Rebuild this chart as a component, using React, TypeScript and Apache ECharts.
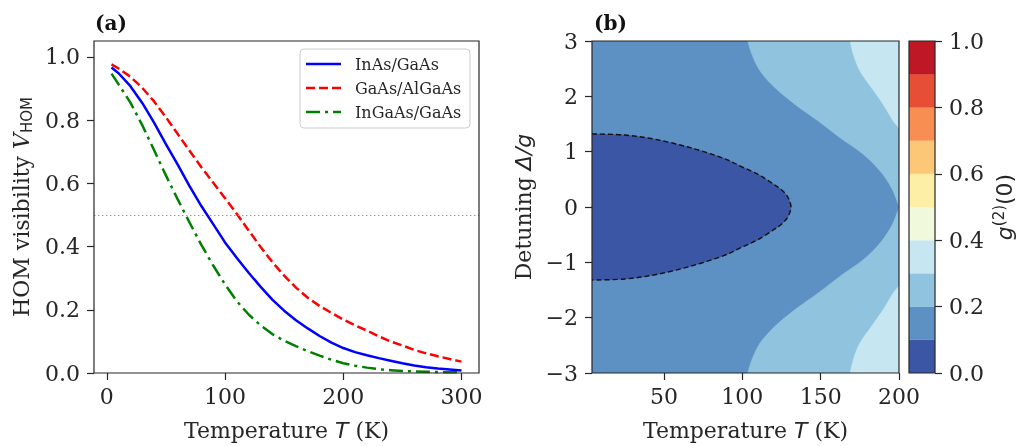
import { useEffect, useRef } from 'react';
import * as echarts from 'echarts';

const SERIF = 'DejaVu Serif';
const SANS = 'DejaVu Sans';
const INK = '#262626';

// ---- Panel (a): HOM visibility vs temperature ----
const temperatures = [4, 10, 20, 30, 40, 50, 60, 70, 80, 90, 100, 110, 120, 130, 140, 150, 160, 170, 180, 190, 200, 210, 220, 230, 240, 250, 260, 270, 280, 290, 300];
const inasGaas = [0.966, 0.948, 0.907, 0.854, 0.792, 0.724, 0.659, 0.591, 0.528, 0.471, 0.413, 0.364, 0.317, 0.273, 0.232, 0.197, 0.167, 0.141, 0.117, 0.096, 0.079, 0.066, 0.056, 0.047, 0.039, 0.031, 0.024, 0.018, 0.014, 0.011, 0.008];
const gaasAlgaas = [0.976, 0.963, 0.937, 0.902, 0.859, 0.809, 0.756, 0.703, 0.651, 0.602, 0.553, 0.503, 0.451, 0.399, 0.351, 0.308, 0.270, 0.238, 0.212, 0.190, 0.169, 0.151, 0.134, 0.116, 0.100, 0.087, 0.073, 0.062, 0.053, 0.044, 0.036];
const ingaasGaas = [0.947, 0.913, 0.855, 0.784, 0.705, 0.625, 0.549, 0.476, 0.405, 0.340, 0.280, 0.227, 0.185, 0.151, 0.123, 0.102, 0.085, 0.069, 0.055, 0.042, 0.031, 0.023, 0.017, 0.012, 0.009, 0.006, 0.005, 0.004, 0.003, 0.002, 0.002];
const seriesNames = ['InAs/GaAs', 'GaAs/AlGaAs', 'InGaAs/GaAs'];
const halfVisibility = 0.5;
const tempTicksA = [0, 100, 200, 300];
const visTicks = [0, 0.2, 0.4, 0.6, 0.8, 1.0];

// ---- Panel (b): g2(0) contour map (T, detuning) ----
const tempTicksB = [50, 100, 150, 200];
const levelEdges = [0, 0.1, 0.2, 0.3, 0.4, 0.5, 0.6, 0.7, 0.8, 0.9, 1.0];
const levelColors = ['#3b56a5', '#5d91c3', '#90c3dd', '#c6e6f1', '#f0f9dc', '#feefa7', '#fdc778', '#f88e52', '#e64f35', '#be1826'];
// upper halves of the contour lines (T [K], detuning); the map is symmetric in detuning
const contour01Upper = [[4, 1.32], [25, 1.30], [45, 1.22], [67, 1.07], [88, 0.88], [99, 0.735], [110, 0.59], [120, 0.41], [125, 0.31], [129, 0.18], [131, 0]];
const contour02Upper = [[103.4, 3], [106.2, 2.75], [111.5, 2.45], [121, 2.15], [133.8, 1.85], [148.6, 1.55], [162.4, 1.25], [177.3, 0.95], [187.9, 0.65], [195.3, 0.34], [199.6, 0.04], [200, 0]];
const contour03Upper = [[168.8, 3], [170.9, 2.75], [175, 2.46], [182.6, 2.15], [190, 1.85], [196.4, 1.55], [200, 1.43]];

const mirror = (pts: number[][]) => pts.map(([t, d]) => [t, -d]);

const regions = [
  { fill: levelColors[2], curve: contour02Upper, corners: [[200, 3]], dashed: false },
  { fill: levelColors[2], curve: mirror(contour02Upper), corners: [[200, -3]], dashed: false },
  { fill: levelColors[3], curve: contour03Upper, corners: [[200, 3]], dashed: false },
  { fill: levelColors[3], curve: mirror(contour03Upper), corners: [[200, -3]], dashed: false },
  { fill: levelColors[0], curve: [...contour01Upper, ...mirror(contour01Upper.slice(0, -1)).reverse()], corners: [], dashed: true },
];

// Catmull-Rom spline through pixel points -> SVG path commands
function splinePath(p: number[][]): string {
  let d = `M${p[0][0]},${p[0][1]}`;
  for (let i = 0; i < p.length - 1; i++) {
    const p0 = p[i - 1] || p[i];
    const p1 = p[i];
    const p2 = p[i + 1];
    const p3 = p[i + 2] || p2;
    const c1x = p1[0] + (p2[0] - p0[0]) / 6;
    const c1y = p1[1] + (p2[1] - p0[1]) / 6;
    const c2x = p2[0] - (p3[0] - p1[0]) / 6;
    const c2y = p2[1] - (p3[1] - p1[1]) / 6;
    d += ` C${c1x},${c1y} ${c2x},${c2y} ${p2[0]},${p2[1]}`;
  }
  return d;
}

const tickFont = { fontFamily: SERIF, fontSize: 22, color: INK };
const mathRich = {
  i: { fontFamily: SANS, fontStyle: 'italic', fontSize: 22, color: INK },
};

export default function App() {
  const ref = useRef<HTMLDivElement>(null);
  useEffect(() => {
    const chart = echarts.init(ref.current!, null, { renderer: 'svg' });
    const lineColors = ['#0000ff', '#ff0000', '#008000'];
    const lineTypes: any[] = ['solid', [9, 4], [14, 5, 3, 5]];
    const valuesList = [inasGaas, gaasAlgaas, ingaasGaas];

    const legendX = 300, legendY = 49;
    const legendGraphics: any[] = [
      {
        type: 'rect', z: 50,
        shape: { x: legendX, y: legendY, width: 170, height: 79, r: 4 },
        style: { fill: 'rgba(255,255,255,0.85)', stroke: '#cccccc', lineWidth: 1 },
      },
    ];
    seriesNames.forEach((name, i) => {
      const y = legendY + 15 + i * 24;
      legendGraphics.push({
        type: 'line', z: 51,
        shape: { x1: legendX + 6, y1: y, x2: legendX + 41, y2: y },
        style: { stroke: lineColors[i], lineWidth: 2.5, lineDash: lineTypes[i] === 'solid' ? null : lineTypes[i] },
      });
      legendGraphics.push({
        type: 'text', z: 51, x: legendX + 55, y,
        style: { text: name, font: `16px "${SERIF}"`, fontFamily: SERIF, fontSize: 16, fill: INK, verticalAlign: 'middle', align: 'left' },
      });
    });

    const baseX = {
      type: 'value',
      axisLine: { show: false, onZero: false },
      splitLine: { show: false },
    };

    const option: any = {
      animation: false,
      textStyle: { fontFamily: SERIF },
      grid: [
        { left: 94, top: 41, width: 385, height: 332 },
        { left: 592, top: 41, width: 307, height: 332, show: true, backgroundColor: levelColors[1], borderWidth: 0 },
        { left: 909, top: 41, width: 26, height: 332 },
      ],
      xAxis: [
        {
          ...baseX, gridIndex: 0, min: -10.8, max: 314.8,
          axisTick: { show: true, length: 7, customValues: tempTicksA, lineStyle: { color: INK, width: 1.2 } },
          axisLabel: { ...tickFont, margin: 12, customValues: tempTicksA, formatter: (v: number) => String(v) },
          name: 'Temperature {i|T} (K)', nameLocation: 'middle', nameGap: 46,
          nameTextStyle: { ...tickFont, rich: mathRich },
        },
        {
          ...baseX, gridIndex: 1, min: 4, max: 200,
          axisTick: { show: true, length: 7, customValues: tempTicksB, lineStyle: { color: INK, width: 1.2 } },
          axisLabel: { ...tickFont, margin: 12, customValues: tempTicksB, formatter: (v: number) => String(v) },
          name: 'Temperature {i|T} (K)', nameLocation: 'middle', nameGap: 46,
          nameTextStyle: { ...tickFont, rich: mathRich },
        },
        { ...baseX, gridIndex: 2, min: 0, max: 1, show: false },
      ],
      yAxis: [
        {
          ...baseX, gridIndex: 0, min: 0, max: 1.05,
          axisTick: { show: true, length: 7, customValues: visTicks, lineStyle: { color: INK, width: 1.2 } },
          axisLabel: { ...tickFont, margin: 14, customValues: visTicks, formatter: (v: number) => v.toFixed(1) },
          name: 'HOM visibility {v|V}{sub|HOM}', nameLocation: 'middle', nameGap: 60, nameRotate: 90,
          nameTextStyle: {
            ...tickFont,
            rich: {
              v: { fontFamily: SERIF, fontStyle: 'italic', fontSize: 22, color: INK },
              sub: { fontFamily: SANS, fontSize: 15, color: INK, padding: [10, 0, 0, 0] },
            },
          },
        },
        {
          ...baseX, gridIndex: 1, min: -3, max: 3, interval: 1,
          axisTick: { show: true, length: 7, lineStyle: { color: INK, width: 1.2 } },
          axisLabel: { ...tickFont, margin: 14, formatter: (v: number) => String(v).replace('-', '\u2212') },
          name: 'Detuning {i|Δ/g}', nameLocation: 'middle', nameGap: 58, nameRotate: 90,
          nameTextStyle: { ...tickFont, rich: mathRich },
        },
        {
          ...baseX, gridIndex: 2, min: 0, max: 1, interval: 0.2, position: 'right',
          axisTick: { show: true, length: 7, lineStyle: { color: INK, width: 1.2 } },
          axisLabel: { ...tickFont, margin: 14, formatter: (v: number) => v.toFixed(1) },
          name: '{g|g}{sup|(2)}{n|(0)}', nameLocation: 'middle', nameGap: 56, nameRotate: 90,
          nameTextStyle: {
            fontFamily: SANS, fontSize: 22, color: INK,
            rich: {
              g: { fontFamily: SANS, fontStyle: 'italic', fontSize: 22, color: INK },
              sup: { fontFamily: SANS, fontSize: 15, color: INK, padding: [0, 0, 11, 0] },
              n: { fontFamily: SANS, fontSize: 22, color: INK },
            },
          },
        },
      ],
      series: [
        ...valuesList.map((vals, i) => ({
          type: 'line', name: seriesNames[i], xAxisIndex: 0, yAxisIndex: 0,
          data: temperatures.map((t, k) => [t, vals[k]]),
          showSymbol: false, smooth: false,
          lineStyle: { color: lineColors[i], width: 2.5, type: lineTypes[i], join: 'round' },
          z: 3 + (2 - i),
          markLine: i === 0 ? {
            silent: true, symbol: 'none', label: { show: false },
            lineStyle: { color: '#999999', width: 1.2, type: [1.5, 2.5] },
            data: [{ yAxis: halfVisibility }],
          } : undefined,
        })),
        {
          type: 'custom', xAxisIndex: 1, yAxisIndex: 1, clip: true,
          data: regions.map((r) => r.curve[0]),
          renderItem: (params: any, api: any) => {
            const r = regions[params.dataIndex];
            const curve = r.curve.map((p) => api.coord(p));
            const corners = r.corners.map((p) => api.coord(p));
            const curveD = splinePath(curve);
            const fillD = curveD + corners.map((c) => ` L${c[0]},${c[1]}`).join('') + ' Z';
            const children: any[] = [
              { type: 'path', shape: { pathData: fillD }, style: { fill: r.fill, stroke: r.fill, lineWidth: 0.5 } },
            ];
            if (r.dashed) {
              children.push({
                type: 'path', shape: { pathData: curveD },
                style: { fill: null, stroke: '#111111', lineWidth: 1.4, lineDash: [5, 3] },
              });
            }
            return { type: 'group', children };
          },
        },
        {
          type: 'custom', xAxisIndex: 2, yAxisIndex: 2, clip: true,
          data: levelColors.map((_, i) => [0, levelEdges[i]]),
          renderItem: (params: any, api: any) => {
            const i = params.dataIndex;
            const p0 = api.coord([0, levelEdges[i]]);
            const p1 = api.coord([1, levelEdges[i + 1]]);
            return {
              type: 'rect',
              shape: { x: p0[0], y: p1[1], width: p1[0] - p0[0], height: p0[1] - p1[1] },
              style: { fill: levelColors[i], stroke: levelColors[i], lineWidth: 0.3 },
            };
          },
        },
      ],
      graphic: [
        ...[[94, 385], [592, 307], [909, 26]].map(([x, w]) => ({
          type: 'rect', z: 100,
          shape: { x, y: 41, width: w, height: 332 },
          style: { fill: 'none', stroke: INK, lineWidth: 1.2 },
        })),
        ...legendGraphics,
        {
          type: 'text', x: 95, y: 23, z: 100,
          style: { text: '(a)', fontFamily: SERIF, fontWeight: 'bold', fontSize: 20, fill: '#111', verticalAlign: 'middle' },
        },
        {
          type: 'text', x: 594, y: 23, z: 100,
          style: { text: '(b)', fontFamily: SERIF, fontWeight: 'bold', fontSize: 20, fill: '#111', verticalAlign: 'middle' },
        },
      ],
    };
    chart.setOption(option);
    return () => chart.dispose();
  }, []);
  return <div ref={ref} style={{ position: 'fixed', left: 0, top: 0, width: 1023, height: 446 }} />;
}
